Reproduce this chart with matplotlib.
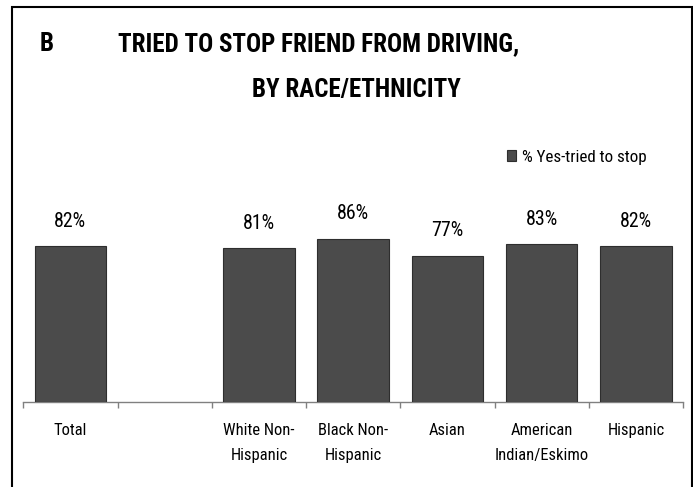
import matplotlib
matplotlib.use("Agg")
import matplotlib.pyplot as plt
from matplotlib import font_manager
from matplotlib.patches import Rectangle
import numpy as np

# Prefer a condensed sans face when one is installed
installed = {f.name for f in font_manager.fontManager.ttflist}
narrow = [n for n in ['Liberation Sans Narrow', 'Roboto Condensed', 'Open Sans Condensed',
                      'DejaVu Sans Condensed', 'Noto Sans Condensed']
          if n in installed]
plt.rcParams['font.family'] = narrow[:1] + ['Liberation Sans', 'DejaVu Sans']

categories = ["Total", "", "White Non-\nHispanic", "Black Non-\nHispanic", "Asian",
              "American\nIndian/Eskimo", "Hispanic"]
values = [82, None, 81, 86, 77, 83, 82]
series_name = "% Yes-tried to stop"

W, H = 693, 487
fig = plt.figure(figsize=(W / 100, H / 100), dpi=100)
renderer = fig.canvas.get_renderer()


def size_for(s, target_px, **kw):
    """Font size at which string s renders target_px wide."""
    t = fig.text(0, 0, s, fontsize=12, **kw)
    bb = t.get_window_extent(renderer)
    t.remove()
    return 12 * target_px / bb.width


ax = fig.add_axes([23.3 / W, 1 - 402.3 / H, (683 - 23.3) / W, 190.2 / H])

x = np.arange(len(categories))
bar_x = [i for i, v in zip(x, values) if v is not None]
bar_v = [v for v in values if v is not None]
bars = ax.bar(bar_x, bar_v, width=0.76, color='#4b4b4b', edgecolor='#2e2e2e',
              linewidth=0.8, label=series_name, zorder=3)

val_size = size_for("82%", 32)
for xi, v in zip(bar_x, bar_v):
    ax.annotate(f"{v}%", (xi, v), xytext=(0, 18), textcoords='offset points',
                ha='center', va='center', fontsize=val_size)

ax.set_xlim(-0.5, len(categories) - 0.5)
ax.set_ylim(0, 100)
for s in ['top', 'right', 'left']:
    ax.spines[s].set_visible(False)
ax.spines['bottom'].set_color('#808080')
ax.spines['bottom'].set_linewidth(1.0)
ax.set_yticks([])

cat_size = size_for("White Non-", 71)
ax.set_xticks(x)
ax.set_xticklabels(categories, fontsize=cat_size, linespacing=1.8, va='top')
ax.tick_params(axis='x', which='major', length=0, pad=15)
ax.set_xticks(np.arange(len(categories) + 1) - 0.5, minor=True)
ax.tick_params(axis='x', which='minor', length=4, width=1.0, color='#808080')

leg = ax.legend(handles=[bars], labels=[series_name], loc='center left',
                bbox_to_anchor=(507 / W, 1 - 157 / H), bbox_transform=fig.transFigure,
                frameon=False, fontsize=size_for(series_name, 125),
                handlelength=0.55, handleheight=0.6,
                handletextpad=0.35, borderaxespad=0, borderpad=0)

title_size = size_for("TRIED TO STOP FRIEND FROM DRIVING,", 400, fontweight='bold')
fig.text(40 / W, 1 - 44 / H, "B", fontsize=title_size, fontweight='bold',
         va='center', ha='left')
fig.text(118 / W, 1 - 44 / H, "TRIED TO STOP FRIEND FROM DRIVING,", fontsize=title_size,
         fontweight='bold', va='center', ha='left')
fig.text(356 / W, 1 - 90 / H, "BY RACE/ETHNICITY", fontsize=title_size,
         fontweight='bold', va='center', ha='center')

fig.patches.append(Rectangle((12 / W, -0.05), (691.5 - 12) / W, 1.05 - 7 / H,
                             transform=fig.transFigure, fill=False,
                             edgecolor='black', linewidth=1.5, clip_on=False))

fig.savefig("out.png", dpi=100)
